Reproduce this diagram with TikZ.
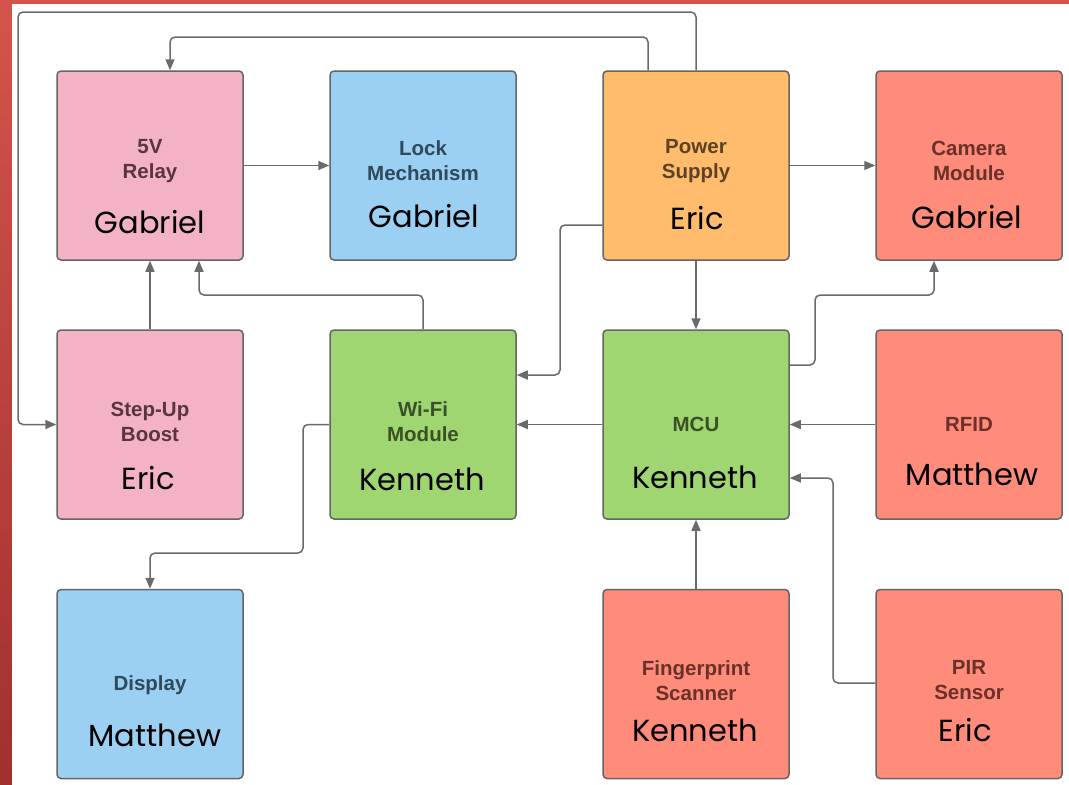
\documentclass[tikz,border=0pt]{standalone}
\usepackage{fontspec}
\setmainfont{Liberation Sans}
\newfontfamily\namefont{Poppins}
\usetikzlibrary{arrows.meta}
\definecolor{pinkf}{HTML}{F4B3C5}
\definecolor{bluef}{HTML}{9BD0F2}
\definecolor{orangef}{HTML}{FFBC6C}
\definecolor{greenf}{HTML}{A0D672}
\definecolor{salmonf}{HTML}{FF8B7B}
\definecolor{edgec}{HTML}{656565}
\definecolor{linec}{HTML}{6A6A6A}
\definecolor{redtop}{HTML}{D3544C}
\definecolor{redbot}{HTML}{A0302E}
\definecolor{pinkt}{HTML}{5A3441}
\definecolor{bluet}{HTML}{30495B}
\definecolor{oranget}{HTML}{5E4226}
\definecolor{greent}{HTML}{3A5128}
\definecolor{salmont}{HTML}{6A302A}
\tikzset{
  blk/.style={draw=edgec, line width=1.5pt, rounded corners=4pt, minimum width=186pt, minimum height=189pt, inner sep=0pt},
  lbl/.style={font=\fontsize{20.5}{25}\selectfont\bfseries, align=center, inner sep=0pt},
  who/.style={font=\namefont\fontsize{30.5}{36}\selectfont, text=black, inner sep=0pt},
  conn/.style={draw=linec, line width=1.5pt, rounded corners=5pt, -{Triangle[length=11pt,width=9pt]}}
}
\begin{document}
\begin{tikzpicture}[x=1pt,y=-1pt]
\useasboundingbox (0,0) rectangle (1069,785);
\shade[top color=redtop, bottom color=redbot] (0,0) rectangle (1069,785);
\fill[white] (12,4) rectangle (1069,785);
% boxes
\node[blk, fill=pinkf] (relay) at (150,165.5) {};
\node[blk, fill=bluef] (lock) at (423,165.5) {};
\node[blk, fill=orangef] (ps) at (696,165.5) {};
\node[blk, fill=salmonf] (cam) at (969,165.5) {};
\node[blk, fill=pinkf] (boost) at (150,424.5) {};
\node[blk, fill=greenf] (wifi) at (423,424.5) {};
\node[blk, fill=greenf] (mcu) at (696,424.5) {};
\node[blk, fill=salmonf] (rfid) at (969,424.5) {};
\node[blk, fill=bluef] (disp) at (150,684) {};
\node[blk, fill=salmonf] (fp) at (696,684) {};
\node[blk, fill=salmonf] (pir) at (969,684) {};
% labels
\node[lbl, text=pinkt] (relayl) at (150,161) {5V\\Relay};
\node[lbl, text=bluet] (lockl) at (423,161) {Lock\\Mechanism};
\node[lbl, text=oranget] (psl) at (696,161) {Power\\Supply};
\node[lbl, text=salmont] (caml) at (969,161) {Camera\\Module};
\node[lbl, text=pinkt] (boostl) at (150,421.5) {Step-Up\\Boost};
\node[lbl, text=greent] (wifil) at (423,421.5) {Wi-Fi\\Module};
\node[lbl, text=greent] (mcul) at (696,424) {MCU};
\node[lbl, text=salmont] (rfidl) at (969,424) {RFID};
\node[lbl, text=bluet] (displ) at (150,685) {Display};
\node[lbl, text=salmont] (fpl) at (696,680.5) {Fingerprint\\Scanner};
\node[lbl, text=salmont] (pirl) at (969,680.5) {PIR\\Sensor};
% names
\node[who] (relayn) at (150,222) {Gabriel};
\node[who] (lockn) at (424,216) {Gabriel};
\node[who] (psn) at (697,218) {Eric};
\node[who] (camn) at (967,217) {Gabriel};
\node[who] (boostn) at (148,478) {Eric};
\node[who] (wifin) at (422,479) {Kenneth};
\node[who] (mcun) at (695,477) {Kenneth};
\node[who] (rfidn) at (972,474) {Matthew};
\node[who] (dispn) at (155,735) {Matthew};
\node[who] (fpn) at (695,730) {Kenneth};
\node[who] (pirn) at (965,730) {Eric};
% bend points
\coordinate (b1) at (170,37);
\coordinate (b2) at (18,12);
\coordinate (b3) at (199,295);
\coordinate (b4) at (560,375);
\coordinate (b5) at (815,295);
\coordinate (b6) at (833,478);
\coordinate (b7) at (303,553);
% connectors
\draw[conn] ([xshift=-48pt]ps.north) |- (b1) -- (b1 |- relay.north);
\draw[conn] (ps.north) |- (b2) |- (boost.west);
\draw[conn] (relay.east) -- (lock.west);
\draw[conn] (ps.east) -- (cam.west);
\draw[conn] (boost.north) -- (relay.south);
\draw[conn] (wifi.north) |- (b3) -- (b3 |- relay.south);
\draw[conn] ([yshift=-59.5pt]ps.west) -| (b4) -- (b4 -| wifi.east);
\draw[conn] (ps.south) -- (mcu.north);
\draw[conn] ([yshift=59.5pt]mcu.east) -| (b5) -| ([xshift=-35pt]cam.south);
\draw[conn] (mcu.west) -- (wifi.east);
\draw[conn] (rfid.west) -- (mcu.east);
\draw[conn] ([yshift=1pt]pir.west) -| (b6) -- (b6 -| mcu.east);
\draw[conn] (fp.north) -- (mcu.south);
\draw[conn] (wifi.west) -| (b7) -| (disp.north);
\end{tikzpicture}
\end{document}
